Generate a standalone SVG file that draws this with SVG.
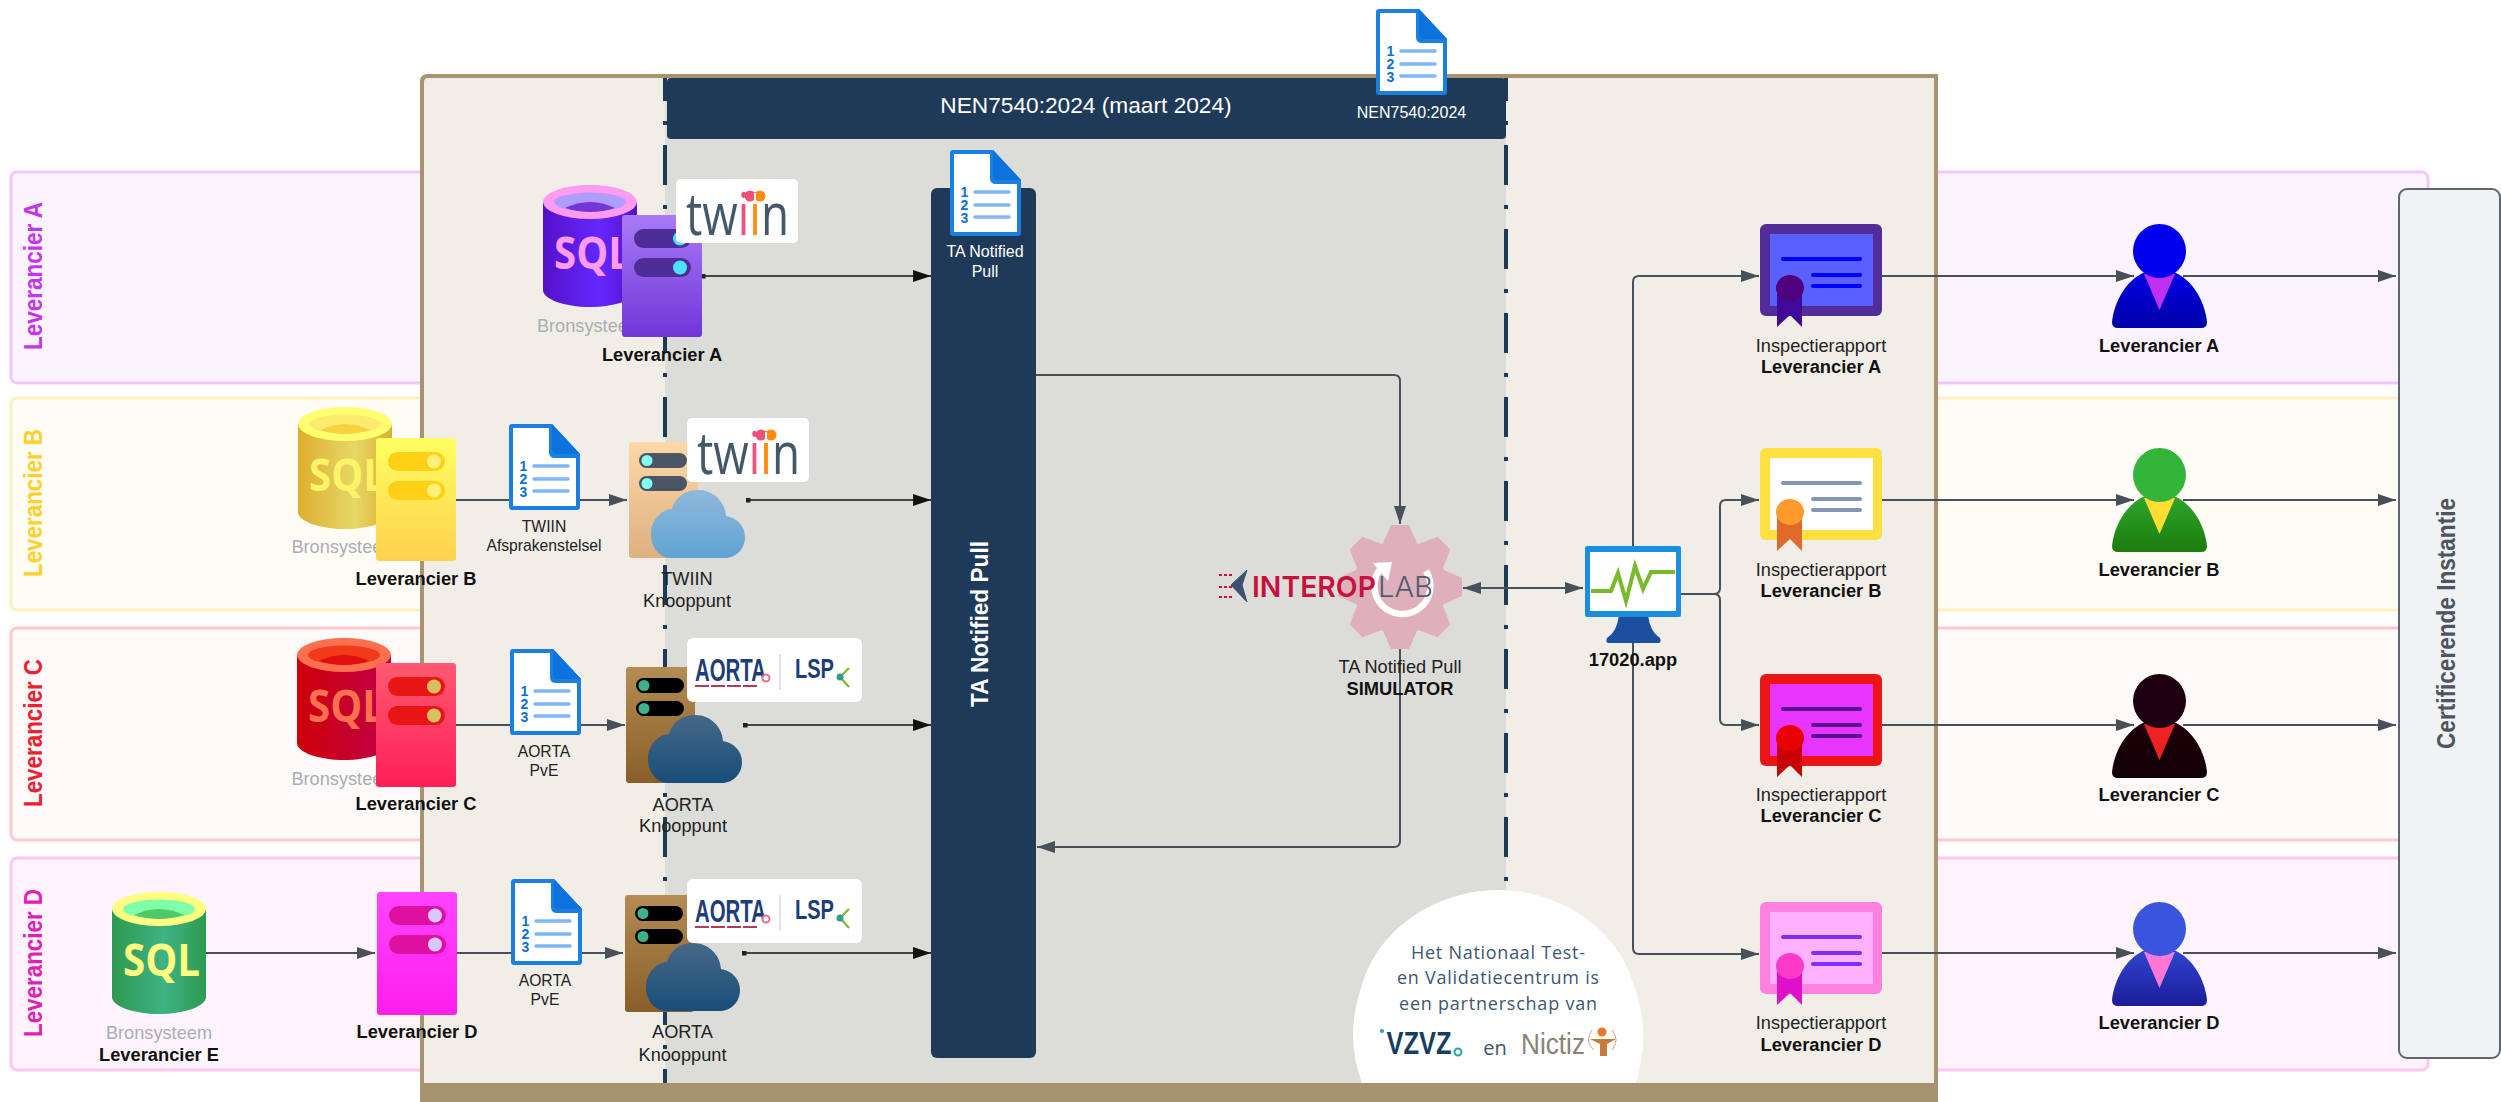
<svg xmlns="http://www.w3.org/2000/svg" width="2501" height="1102" viewBox="0 0 2501 1102">
<style>
text{font-family:"Liberation Sans",Arial,sans-serif;text-anchor:middle}
.b{font-weight:700;font-size:18.3px;fill:#111}
.r{font-size:18.2px;fill:#222}
.s{font-size:15.7px;fill:#222}
.br{font-size:18.2px;fill:#A9ADB5}
.lane{font-weight:700;font-size:26px}
.sql{font-family:"Open Sans",sans-serif;font-weight:700;font-size:45px;text-anchor:start}
.c{fill:none;stroke:#4A505A;stroke-width:2;stroke-linejoin:round}
.k{fill:none;stroke:#111;stroke-width:1.6}
.ar{marker-end:url(#a)}
.ak{marker-end:url(#ab);marker-start:url(#d)}
.dash{fill:none;stroke:#1F3A58;stroke-width:4;stroke-dasharray:40 20 4 20;stroke-dashoffset:17}
.tw{font-family:"Open Sans",sans-serif;font-size:58px;fill:#45586A;text-anchor:start}
.ao{font-family:"Liberation Sans",sans-serif;font-weight:700;fill:#1B3D7A;text-anchor:start}
.v{font-family:"Open Sans",sans-serif;font-size:18px;fill:#3E5672}
.wt{fill:#fff}
</style>
<defs>
<marker id="a" markerUnits="userSpaceOnUse" markerWidth="18" markerHeight="12" refX="18" refY="6" orient="auto-start-reverse"><path d="M0 0L18 6L0 12Z" fill="#4A505A"/></marker>
<marker id="ab" markerUnits="userSpaceOnUse" markerWidth="18" markerHeight="12" refX="18" refY="6" orient="auto"><path d="M0 0L18 6L0 12Z" fill="#111"/></marker>
<marker id="d" markerUnits="userSpaceOnUse" markerWidth="5" markerHeight="5" refX="2.5" refY="2.5"><rect width="5" height="5" fill="#222"/></marker>

<g id="doc">
<path d="M3 0H43L71 30V83Q71 86 68 86H3Q0 86 0 83V3Q0 0 3 0Z" fill="#1A7FE0"/>
<path d="M4 4H40V28Q40 34 46 34H67V82H4Z" fill="#fff"/>
<path d="M43 0L71 30H48Q43 30 43 25Z" fill="#0B73DB"/>
<text x="14.500" y="47" font-weight="700" font-size="14" fill="#0B6FD6">1</text>
<text x="14.500" y="60" font-weight="700" font-size="14" fill="#0B6FD6">2</text>
<text x="14.500" y="73" font-weight="700" font-size="14" fill="#0B6FD6">3</text>
<path d="M25 42H59M25 55H59M25 67H59" stroke="#7FB6F6" stroke-width="3.500" stroke-linecap="round"/>
</g>

<linearGradient id="cA"><stop offset="0" stop-color="#5510C8"/><stop offset=".6" stop-color="#6428FF"/><stop offset="1" stop-color="#5510C8"/></linearGradient>
<linearGradient id="cB"><stop offset="0" stop-color="#DDAE2E"/><stop offset=".6" stop-color="#E6D866"/><stop offset="1" stop-color="#DDAE2E"/></linearGradient>
<linearGradient id="cC"><stop offset="0" stop-color="#CE0008"/><stop offset="1" stop-color="#BE0048"/></linearGradient>
<linearGradient id="cE"><stop offset="0" stop-color="#2E9A50"/><stop offset=".55" stop-color="#3EB284"/><stop offset="1" stop-color="#2E9A50"/></linearGradient>
<linearGradient id="sA" x2="0" y2="1"><stop offset="0" stop-color="#A97AF6"/><stop offset="1" stop-color="#7036D8"/></linearGradient>
<linearGradient id="sB" x2="0" y2="1"><stop offset="0" stop-color="#FFFF60"/><stop offset="1" stop-color="#FFD14E"/></linearGradient>
<linearGradient id="sC" x2="0" y2="1"><stop offset="0" stop-color="#FF5A70"/><stop offset="1" stop-color="#FF1E58"/></linearGradient>
<linearGradient id="sD" x2="0" y2="1"><stop offset="0" stop-color="#FF44FF"/><stop offset="1" stop-color="#FF1EEC"/></linearGradient>
<linearGradient id="sT" x2="0" y2="1"><stop offset="0" stop-color="#FFD8A8"/><stop offset="1" stop-color="#DDB080"/></linearGradient>
<linearGradient id="sO" x2="0" y2="1"><stop offset="0" stop-color="#B48C54"/><stop offset="1" stop-color="#8A5E28"/></linearGradient>
<linearGradient id="clT" x2="0" y2="1"><stop offset="0" stop-color="#90B8DC"/><stop offset="1" stop-color="#60A4D2"/></linearGradient>
<linearGradient id="clO" x2="0" y2="1"><stop offset="0" stop-color="#466888"/><stop offset="1" stop-color="#184E78"/></linearGradient>
<linearGradient id="pA" x2="0" y2="1"><stop offset="0" stop-color="#0000E6"/><stop offset="1" stop-color="#0000A8"/></linearGradient>
<linearGradient id="pB" x2="0" y2="1"><stop offset="0" stop-color="#2FA62C"/><stop offset="1" stop-color="#1B7C0E"/></linearGradient>
<linearGradient id="pC" x2="0" y2="1"><stop offset="0" stop-color="#1E0008"/><stop offset="1" stop-color="#120006"/></linearGradient>
<linearGradient id="pD" x2="0" y2="1"><stop offset="0" stop-color="#2E46D0"/><stop offset="1" stop-color="#1C1C98"/></linearGradient>

<path id="cloud" d="M20 68C9 68 0 58 0 44C0 31 9 20 21 19C24 8 33 0 47 0C62 0 74 11 75 26C86 28 94 36 94 47C94 59 85 68 74 68Z"/>
<path id="pbody" d="M33 48C14 56 2 78 0 98Q0 104 6 104H89Q95 104 95 98C93 78 81 56 62 48Z"/>
<path id="ptie" d="M32 50H63L47.500 86Z"/>
<path id="tooth" d="M-17 -44L-9 -62H9L17 -44Z" fill="#DFB0BC"/>
<g id="twiinlogo">
<rect width="122" height="64" rx="5" fill="#fff"/>
<text class="tw" x="10" y="56" textLength="103" lengthAdjust="spacingAndGlyphs">tw<tspan fill="#F0507A">i</tspan><tspan fill="#FF8C0A">i</tspan>n</text>
<circle cx="74" cy="17" r="5.500" fill="#F0507A"/><circle cx="84" cy="17" r="5.500" fill="#FF8C0A"/><rect x="78" y="14" width="2" height="6" fill="#fff"/>
</g>
<g id="aortalogo">
<rect width="175" height="64" rx="6" fill="#fff"/>
<text class="ao" x="8" y="43" font-size="31" textLength="71" lengthAdjust="spacingAndGlyphs">AORTA</text>
<path d="M8 48H72" stroke="#B23A5E" stroke-width="2" stroke-dasharray="14 2"/>
<circle cx="79" cy="40" r="3.500" fill="#fff" stroke="#E8708C" stroke-width="2"/>
<rect x="92.500" y="16" width="1" height="36" fill="#C9CDD2"/>
<text class="ao" x="108" y="40" font-size="28" textLength="39" lengthAdjust="spacingAndGlyphs">LSP</text>
<path d="M153 39L162 30M153 39L162 49" stroke="#7AB82E" stroke-width="2.200" fill="none"/><circle cx="153" cy="39" r="3.500" fill="#2E9E8E"/>
</g>
</defs>

<g id="lanes">
<rect x="11" y="172" width="2417" height="211" rx="6" fill="#FBF4FF" stroke="#F0C6FF" stroke-width="3"/>
<rect x="11" y="398" width="2417" height="212" rx="6" fill="#FFFDF6" stroke="#FFEFC0" stroke-width="3"/>
<rect x="11" y="628" width="2417" height="212" rx="6" fill="#FFFAFA" stroke="#FFC8CC" stroke-width="3"/>
<rect x="11" y="858" width="2417" height="212" rx="6" fill="#FFF4FC" stroke="#FFC6F0" stroke-width="3"/>
<text class="lane" transform="translate(42 276) rotate(-90)" fill="#C535F0" textLength="148" lengthAdjust="spacingAndGlyphs">Leverancier A</text>
<text class="lane" transform="translate(42 503) rotate(-90)" fill="#FFD02A" textLength="148" lengthAdjust="spacingAndGlyphs">Leverancier B</text>
<text class="lane" transform="translate(42 733) rotate(-90)" fill="#EE2030" textLength="148" lengthAdjust="spacingAndGlyphs">Leverancier C</text>
<text class="lane" transform="translate(42 963) rotate(-90)" fill="#E01FB8" textLength="148" lengthAdjust="spacingAndGlyphs">Leverancier D</text>
</g>

<g id="container">
<path d="M422 1102V82Q422 76 428 76H1936V1102Z" fill="#F1EEE8" stroke="#A89370" stroke-width="4"/>
<rect x="665" y="78" width="841" height="1005" fill="#DCDDD9"/>
<path class="dash" d="M665 78V1083"/>
<path class="dash" d="M1506 78V890"/>
<rect x="667" y="78" width="839" height="61" rx="4" fill="#1F3A58"/>
<text x="1086" y="113" font-size="22.700" class="wt">NEN7540:2024 (maart 2024)</text>
<text x="1411.500" y="118" font-size="16" class="wt">NEN7540:2024</text>
<rect x="420" y="1083" width="1518" height="19" fill="#A89370"/>
</g>

<g id="partner-note">
<path d="M1362 1083C1350 1050 1350 1020 1362 985C1380 925 1440 890 1498 890C1556 890 1616 925 1634 985C1646 1020 1646 1050 1636 1083Z" fill="#fff"/>
<text x="1498" y="959" class="v" textLength="174">Het Nationaal Test-</text>
<text x="1498" y="984" class="v" textLength="202">en Validatiecentrum is</text>
<text x="1498" y="1010" class="v" textLength="198">een partnerschap van</text>
<circle cx="1382" cy="1031" r="2" fill="#20A8A0"/>
<text x="1419" y="1054" font-size="31" fill="#163E62" textLength="65" lengthAdjust="spacingAndGlyphs" font-weight="700">VZVZ</text>
<circle cx="1458" cy="1052" r="3.500" fill="#fff" stroke="#20A8A0" stroke-width="2"/>
<text x="1495" y="1055" class="v" style="font-size:20px">en</text>
<text x="1553" y="1054" font-size="30" fill="#8B8176" textLength="64" lengthAdjust="spacingAndGlyphs">Nictiz</text>
<circle cx="1602" cy="1032" r="4.500" fill="#E8792C"/>
<path d="M1590 1039H1616L1607 1044V1056H1600V1044Z" fill="#C87A3C"/>
<path d="M1592 1030Q1584 1042 1594 1050M1612 1030Q1620 1040 1612 1050" stroke="#E8A070" fill="none" stroke-width="1"/>
</g>

<g id="connectors">
<path class="k ak" d="M703 276H931"/>
<path class="k ak" d="M748 500H931"/>
<path class="k ak" d="M745 725H931"/>
<path class="k ak" d="M744 953H931"/>
<path class="c ar" d="M456 500H627"/>
<path class="c ar" d="M456 725H625"/>
<path class="c ar" d="M456 953H623"/>
<path class="c ar" d="M206 953H375"/>
<path class="c ar" d="M1036 375H1394Q1400 375 1400 381V524"/>
<path class="c ar" d="M1400 649V841Q1400 847 1394 847H1037"/>
<path class="c ar" style="marker-start:url(#a)" d="M1463 588H1583"/>
<path class="c ar" d="M1633 546V282Q1633 276 1639 276H1759"/>
<path class="c ar" d="M1681 594H1714Q1720 594 1720 588V506Q1720 500 1726 500H1759"/>
<path class="c ar" d="M1681 594H1714Q1720 594 1720 600V719Q1720 725 1726 725H1759"/>
<path class="c ar" d="M1633 643V948Q1633 954 1639 954H1759"/>
<path class="c ar" d="M1882 276H2134"/>
<path class="c ar" d="M1882 500H2134"/>
<path class="c ar" d="M1882 725H2134"/>
<path class="c ar" d="M1882 953H2134"/>
<path class="c ar" d="M2183 276H2396"/>
<path class="c ar" d="M2183 500H2396"/>
<path class="c ar" d="M2183 725H2396"/>
<path class="c ar" d="M2183 953H2396"/>
</g>

<g id="pull-bar">
<rect x="931" y="188" width="105" height="870" rx="6" fill="#1F3A58"/>
<text transform="translate(988 624) rotate(-90)" font-weight="700" font-size="24" class="wt" textLength="166" lengthAdjust="spacingAndGlyphs">TA Notified Pull</text>
<use href="#doc" x="950" y="150"/>
<text x="985" y="257" font-size="16" class="wt">TA Notified</text>
<text x="985" y="277" font-size="16" class="wt">Pull</text>
</g>

<g id="nen-doc"><use href="#doc" x="1376" y="9"/></g>

<g id="sql-a" transform="translate(543 185)">
<path d="M0 17V105C0 114 21 122 47 122S94 114 94 105V17Z" fill="url(#cA)"/>
<ellipse cx="47" cy="17" rx="47" ry="17" fill="#FF9BF0"/><ellipse cx="47" cy="17" rx="36" ry="9.500" fill="#AE9CFF"/><path d="M22 23Q47 11 72 23Q47 31 22 23Z" fill="#7436D6"/>
<text class="sql" x="11" y="84" fill="#FF9BF0" textLength="77" lengthAdjust="spacingAndGlyphs">SQL</text>
</g>
<text class="br" x="590" y="332">Bronsysteem</text>
<g id="srv-a" transform="translate(622 215)">
<rect width="80" height="122" rx="3" fill="url(#sA)"/>
<rect x="12" y="14" width="57" height="19" rx="9.500" fill="#4F2D96"/><rect x="12" y="43" width="57" height="19" rx="9.500" fill="#4F2D96"/>
<circle cx="58" cy="23.500" r="7" fill="#4EE0FF"/><circle cx="58" cy="52.500" r="7" fill="#4EE0FF"/>
</g>
<text class="b" x="662" y="361">Leverancier A</text>
<use id="logo-twiin-a" href="#twiinlogo" x="676" y="179"/>

<g id="sql-b" transform="translate(298 407)">
<path d="M0 17V105C0 114 21 122 47 122S94 114 94 105V17Z" fill="url(#cB)"/>
<ellipse cx="47" cy="17" rx="47" ry="17" fill="#FFFF70"/><ellipse cx="47" cy="17" rx="36" ry="9.500" fill="#FDEB6E"/><path d="M22 23Q47 11 72 23Q47 31 22 23Z" fill="#F6D23E"/>
<text class="sql" x="11" y="84" fill="#FFF36A" textLength="77" lengthAdjust="spacingAndGlyphs">SQL</text>
</g>
<text class="br" x="344.500" y="553">Bronsysteem</text>
<g id="srv-b" transform="translate(376 438)">
<rect width="80" height="123" rx="3" fill="url(#sB)"/>
<rect x="12" y="14" width="57" height="19" rx="9.500" fill="#FFD015"/><rect x="12" y="43" width="57" height="19" rx="9.500" fill="#FFD015"/>
<circle cx="58" cy="23.500" r="7" fill="#FFF07A"/><circle cx="58" cy="52.500" r="7" fill="#FFF07A"/>
</g>
<text class="b" x="416" y="585">Leverancier B</text>
<g id="doc-twiin"><use href="#doc" x="509" y="424"/>
<text class="s" x="544" y="532">TWIIN</text><text class="s" x="544" y="551">Afsprakenstelsel</text></g>
<g id="knoop-twiin">
<g transform="translate(629 442)"><rect width="69" height="116" rx="3" fill="url(#sT)"/>
<rect x="10" y="11" width="48" height="15" rx="7.500" fill="#4A5565"/><rect x="10" y="34" width="48" height="15" rx="7.500" fill="#4A5565"/>
<circle cx="18" cy="18.500" r="5.500" fill="#80FFF0"/><circle cx="18" cy="41.500" r="5.500" fill="#80FFF0"/></g>
<use href="#twiinlogo" x="687" y="418"/>
<use href="#cloud" x="651" y="490" fill="url(#clT)"/>
<text class="r" x="687" y="585">TWIIN</text><text class="r" x="687" y="607">Knooppunt</text>
</g>

<g id="sql-c" transform="translate(297 638)">
<path d="M0 17V105C0 114 21 122 47 122S94 114 94 105V17Z" fill="url(#cC)"/>
<ellipse cx="47" cy="17" rx="47" ry="17" fill="#FF7050"/><ellipse cx="47" cy="17" rx="36" ry="9.500" fill="#F03A18"/><path d="M22 23Q47 11 72 23Q47 31 22 23Z" fill="#E01010"/>
<text class="sql" x="11" y="84" fill="#FF7050" textLength="77" lengthAdjust="spacingAndGlyphs">SQL</text>
</g>
<text class="br" x="344.500" y="785">Bronsysteem</text>
<g id="srv-c" transform="translate(376 663)">
<rect width="80" height="124" rx="3" fill="url(#sC)"/>
<rect x="12" y="14" width="57" height="19" rx="9.500" fill="#E81515"/><rect x="12" y="43" width="57" height="19" rx="9.500" fill="#E81515"/>
<circle cx="58" cy="23.500" r="7" fill="#D8C060"/><circle cx="58" cy="52.500" r="7" fill="#D8C060"/>
</g>
<text class="b" x="416" y="810">Leverancier C</text>
<g id="doc-aorta-c"><use href="#doc" x="510" y="649"/>
<text class="s" x="544" y="757">AORTA</text><text class="s" x="544" y="776">PvE</text></g>
<g id="knoop-aorta-c">
<g transform="translate(626 667)"><rect width="69" height="116" rx="3" fill="url(#sO)"/>
<rect x="10" y="11" width="48" height="15" rx="7.500" fill="#000"/><rect x="10" y="34" width="48" height="15" rx="7.500" fill="#000"/>
<circle cx="18" cy="18.500" r="5.500" fill="#3DB08C"/><circle cx="18" cy="41.500" r="5.500" fill="#3DB08C"/></g>
<use href="#aortalogo" x="687" y="638"/>
<use href="#cloud" x="648" y="715" fill="url(#clO)"/>
<text class="r" x="683" y="811">AORTA</text><text class="r" x="683" y="832">Knooppunt</text>
</g>

<g id="sql-e" transform="translate(112 892)">
<path d="M0 17V105C0 114 21 122 47 122S94 114 94 105V17Z" fill="url(#cE)"/>
<ellipse cx="47" cy="17" rx="47" ry="17" fill="#FFFF80"/><ellipse cx="47" cy="17" rx="36" ry="9.500" fill="#7FFFA8"/><path d="M22 23Q47 11 72 23Q47 31 22 23Z" fill="#4FC868"/>
<text class="sql" x="11" y="84" fill="#FFFF80" textLength="77" lengthAdjust="spacingAndGlyphs">SQL</text>
</g>
<text class="br" x="159" y="1039">Bronsysteem</text>
<text class="b" x="159" y="1061">Leverancier E</text>
<g id="srv-d" transform="translate(377 892)">
<rect width="80" height="123" rx="3" fill="url(#sD)"/>
<rect x="12" y="14" width="57" height="19" rx="9.500" fill="#DD10A0"/><rect x="12" y="43" width="57" height="19" rx="9.500" fill="#DD10A0"/>
<circle cx="58" cy="23.500" r="7" fill="#D8C8FF"/><circle cx="58" cy="52.500" r="7" fill="#D8C8FF"/>
</g>
<text class="b" x="417" y="1038">Leverancier D</text>
<g id="doc-aorta-d"><use href="#doc" x="511" y="879"/>
<text class="s" x="545" y="986">AORTA</text><text class="s" x="545" y="1005">PvE</text></g>
<g id="knoop-aorta-d">
<g transform="translate(625 895)"><rect width="69" height="117" rx="3" fill="url(#sO)"/>
<rect x="10" y="11" width="48" height="15" rx="7.500" fill="#000"/><rect x="10" y="34" width="48" height="15" rx="7.500" fill="#000"/>
<circle cx="18" cy="18.500" r="5.500" fill="#3DB08C"/><circle cx="18" cy="41.500" r="5.500" fill="#3DB08C"/></g>
<use href="#aortalogo" x="687" y="879"/>
<use href="#cloud" x="646" y="943" fill="url(#clO)"/>
<text class="r" x="682.500" y="1038">AORTA</text><text class="r" x="682.500" y="1061">Knooppunt</text>
</g>

<g id="simulator">
<circle cx="1400" cy="587" r="47" fill="#DFB0BC"/>
<use href="#tooth" transform="translate(1400 587)"/><use href="#tooth" transform="translate(1400 587) rotate(45)"/><use href="#tooth" transform="translate(1400 587) rotate(90)"/><use href="#tooth" transform="translate(1400 587) rotate(135)"/><use href="#tooth" transform="translate(1400 587) rotate(180)"/><use href="#tooth" transform="translate(1400 587) rotate(225)"/><use href="#tooth" transform="translate(1400 587) rotate(270)"/><use href="#tooth" transform="translate(1400 587) rotate(315)"/>
<path d="M1381 568A28 28 0 1 0 1426 571" fill="none" stroke="#fff" stroke-width="6.500"/>
<path d="M1373 563L1392 562L1388 581Z" fill="#fff"/>
<path d="M1247 570L1231 585L1247 602L1242 585Z" fill="#3C5170" stroke="#3C5170" stroke-width="1" stroke-linejoin="round"/>
<path d="M1219 575H1232M1219 587H1232M1219 597H1232" stroke="#C8103F" stroke-width="2.200" stroke-dasharray="3 2" fill="none"/>
<text x="1314" y="597" font-size="29" fill="#C8103F" textLength="124" lengthAdjust="spacingAndGlyphs" font-weight="600" style="font-family:Inter,'Liberation Sans',sans-serif">INTEROP</text>
<text x="1405.500" y="597" font-size="29" fill="#4F5D73" textLength="55" lengthAdjust="spacingAndGlyphs" font-weight="300" style="font-family:Inter,'Liberation Sans',sans-serif">LAB</text>
<text class="r" x="1400" y="673">TA Notified Pull</text>
<text class="b" x="1400" y="695">SIMULATOR</text>
</g>

<g id="monitor">
<path d="M1619 615H1648Q1650 632 1660 638Q1662 643 1658 643H1609Q1605 643 1607 638Q1617 632 1619 615Z" fill="#1D4FA0"/>
<rect x="1585" y="546" width="96" height="71" rx="2" fill="#1A8FE0"/>
<rect x="1590" y="552" width="86" height="59" fill="#fff"/>
<path d="M1591 591H1611L1618 573L1626 601L1635 566L1643 589L1651 572H1675" fill="none" stroke="#79B92A" stroke-width="4"/>
<text class="b" x="1633" y="666">17020.app</text>
</g>

<g id="cert-a" transform="translate(1760 224)">
<rect width="122" height="92" rx="6" fill="#522D99"/><rect x="10" y="10" width="103" height="72" fill="#5A5FFF"/>
<path d="M23 35H100M53 51H100M53 62H100" stroke="#0000FF" stroke-width="4" stroke-linecap="round"/>
<path d="M17 70V103L30 91L42 103V70Z" fill="#3F0A9A"/><ellipse cx="30" cy="64" rx="14" ry="13" fill="#50007F"/>
</g>
<text class="r" x="1821" y="352">Inspectierapport</text><text class="b" x="1821" y="373">Leverancier A</text>
<g id="cert-b" transform="translate(1760 448)">
<rect width="122" height="92" rx="6" fill="#FFE040"/><rect x="10" y="10" width="103" height="72" fill="#fff"/>
<path d="M23 35H100M53 51H100M53 62H100" stroke="#8496B5" stroke-width="4" stroke-linecap="round"/>
<path d="M17 70V103L30 91L42 103V70Z" fill="#E06A2C"/><ellipse cx="30" cy="64" rx="14" ry="13" fill="#FF9A2B"/>
</g>
<text class="r" x="1821" y="576">Inspectierapport</text><text class="b" x="1821" y="597">Leverancier B</text>
<g id="cert-c" transform="translate(1760 674)">
<rect width="122" height="92" rx="6" fill="#EC1414"/><rect x="10" y="10" width="103" height="72" fill="#E734FF"/>
<path d="M23 35H100M53 51H100M53 62H100" stroke="#5A108E" stroke-width="4" stroke-linecap="round"/>
<path d="M17 70V103L30 91L42 103V70Z" fill="#C70000"/><ellipse cx="30" cy="64" rx="14" ry="13" fill="#E90000"/>
</g>
<text class="r" x="1821" y="801">Inspectierapport</text><text class="b" x="1821" y="822">Leverancier C</text>
<g id="cert-d" transform="translate(1760 902)">
<rect width="122" height="92" rx="6" fill="#FF80DF"/><rect x="10" y="10" width="103" height="72" fill="#FFB0FF"/>
<path d="M23 35H100M53 51H100M53 62H100" stroke="#7A30FF" stroke-width="4" stroke-linecap="round"/>
<path d="M17 70V103L30 91L42 103V70Z" fill="#E010C8"/><ellipse cx="30" cy="64" rx="14" ry="13" fill="#FF3AC8"/>
</g>
<text class="r" x="1821" y="1029">Inspectierapport</text><text class="b" x="1821" y="1051">Leverancier D</text>

<g id="person-a" transform="translate(2112 224)"><use href="#pbody" fill="url(#pA)"/><use href="#ptie" fill="#C030F0"/><ellipse cx="47.500" cy="27" rx="26.500" ry="27" fill="#0000EE"/></g>
<text class="b" x="2159" y="352">Leverancier A</text>
<g id="person-b" transform="translate(2112 448)"><use href="#pbody" fill="url(#pB)"/><use href="#ptie" fill="#FFDD33"/><ellipse cx="47.500" cy="27" rx="26.500" ry="27" fill="#33B53A"/></g>
<text class="b" x="2159" y="576">Leverancier B</text>
<g id="person-c" transform="translate(2112 674)"><use href="#pbody" fill="url(#pC)"/><use href="#ptie" fill="#EE2222"/><ellipse cx="47.500" cy="27" rx="26.500" ry="27" fill="#1E0010"/></g>
<text class="b" x="2159" y="801">Leverancier C</text>
<g id="person-d" transform="translate(2112 902)"><use href="#pbody" fill="url(#pD)"/><use href="#ptie" fill="#FF78D8"/><ellipse cx="47.500" cy="27" rx="26.500" ry="27" fill="#3A55DD"/></g>
<text class="b" x="2159" y="1029">Leverancier D</text>

<g id="certificerende-instantie">
<rect x="2399" y="189" width="101" height="869" rx="8" fill="#F0F2F4" stroke="#5E6670" stroke-width="2"/>
<text transform="translate(2455 623.500) rotate(-90)" font-weight="700" font-size="25" fill="#4F555F" textLength="251" lengthAdjust="spacingAndGlyphs">Certificerende Instantie</text>
</g>
</svg>
